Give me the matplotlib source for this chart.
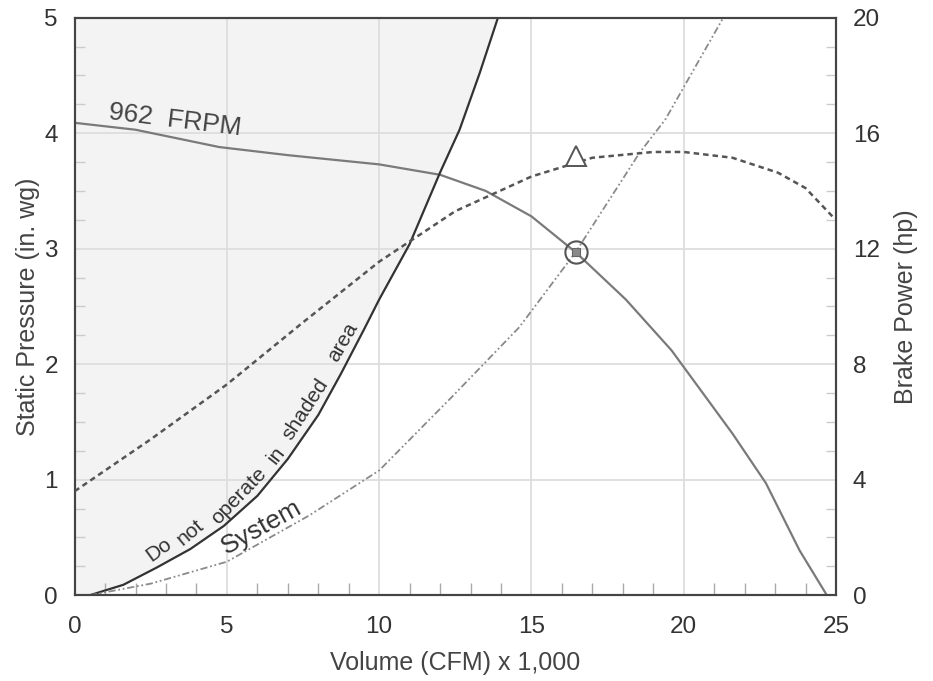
import numpy as np
import matplotlib.pyplot as plt

plt.rcParams['font.family'] = ['Liberation Sans', 'DejaVu Sans']

# fan curve, 962 FRPM (static pressure, in. wg)
fan_x = [0, 2, 4.75, 7, 10, 12, 13.5, 15, 16.45, 18.1, 19.6, 21.6, 22.7, 23.8, 24.7]
fan_y = [4.09, 4.03, 3.88, 3.81, 3.73, 3.64, 3.50, 3.28, 2.97, 2.56, 2.12, 1.40, 0.97, 0.39, 0.0]

# brake power (hp)
bhp_x = [0, 2.5, 5, 7.5, 10, 12.5, 15, 17, 19, 20, 21.6, 23.1, 24, 24.9]
bhp_y = [3.6, 5.4, 7.3, 9.45, 11.55, 13.3, 14.5, 15.15, 15.35, 15.35, 15.15, 14.63, 14.1, 13.1]

# system curve (in. wg)
sys_x = [0.5, 2.5, 5, 7.7, 10, 12.4, 14.6, 16.45, 18.55, 19.4, 21.3]
sys_y = [0, 0.10, 0.29, 0.69, 1.08, 1.72, 2.32, 2.97, 3.83, 4.12, 5.0]

# stall limit ("do not operate") curve
stall_x = [0.5, 1.6, 2.7, 3.8, 4.9, 6, 7, 8, 8.75, 9.5, 10, 11, 12, 12.64, 13.3, 13.9]
stall_y = [0, 0.09, 0.24, 0.40, 0.60, 0.86, 1.18, 1.56, 1.92, 2.30, 2.56, 3.04, 3.66, 4.03, 4.52, 5.0]

op_x, op_y = 16.45, 2.97
op_bhp = 15.2

fig = plt.figure(figsize=(9.33, 6.81), dpi=100)
ax = fig.add_axes([0.080, 0.126, 0.816, 0.848])
ax2 = ax.twinx()

ax.fill_betweenx(stall_y + [5.0], 0, stall_x + [stall_x[-1]], color='#f3f3f3', lw=0, zorder=0)

ax.plot(fan_x, fan_y, color='#7a7a7a', lw=1.6, zorder=3)
ax.plot(stall_x, stall_y, color='#333333', lw=1.6, zorder=3)
ax.plot(sys_x, sys_y, color='#8a8a8a', lw=1.3, dashes=(4, 1.5, 1, 1.5, 1, 1.5), zorder=3)
ax2.plot(bhp_x, bhp_y, color='#555555', lw=1.8, dashes=(2.2, 1.6), zorder=3)

ax.plot([op_x], [op_y], marker='o', ms=16, mfc='none', mec='#555555', mew=1.5, zorder=5)
ax.plot([op_x], [op_y], marker='s', ms=6, mfc='#8a8a8a', mec='#666666', mew=0.8, zorder=5)
ax2.plot([op_x], [op_bhp], marker='^', ms=14, mfc='white', mec='#555555', mew=1.4, zorder=5)

ax.set_xlim(0, 25)
ax.set_ylim(0, 5)
ax2.set_ylim(0, 20)
ax.set_xticks([0, 5, 10, 15, 20, 25])
ax.set_yticks([0, 1, 2, 3, 4, 5])
ax2.set_yticks([0, 4, 8, 12, 16, 20])
ax.set_xticks(np.arange(0, 26, 1), minor=True)
ax.set_yticks(np.arange(0, 5.01, 0.25), minor=True)
ax2.set_yticks(np.arange(0, 21, 1), minor=True)

ax.grid(True, which='major', color='#dddddd', lw=1.3)
ax.set_axisbelow(True)

ax.tick_params(axis='x', which='major', length=0, labelsize=17.5, labelcolor='#333333', pad=15)
ax.tick_params(axis='y', which='major', length=0, labelsize=17.5, labelcolor='#333333', pad=12)
ax2.tick_params(which='major', length=0, labelsize=17.5, labelcolor='#333333', pad=12)
ax.tick_params(axis='x', which='minor', direction='in', length=9, width=1, color='#aaaaaa')
ax.tick_params(axis='y', which='minor', direction='in', length=7, width=1, color='#cccccc')
ax2.tick_params(axis='y', which='minor', direction='in', length=7, width=1, color='#cccccc')

for a in (ax, ax2):
    for s in a.spines.values():
        s.set_color('#444444')
        s.set_linewidth(1.5)

ax.set_xlabel('Volume (CFM) x 1,000', fontsize=18, color='#444444', labelpad=9)
ax.set_ylabel('Static Pressure (in. wg)', fontsize=18, color='#444444', labelpad=3)
ax2.set_ylabel('Brake Power (hp)', fontsize=18, color='#444444', labelpad=10)

ax.text(1.08, 4.12, '962  FRPM', fontsize=19, color='#444444', rotation=-7,
        rotation_mode='anchor', ha='left', va='baseline', zorder=4)

# label that follows the stall curve, one word at a time
words = ['Do', 'not', 'operate', 'in', 'shaded', 'area']
word_x = [2.75, 3.78, 5.40, 6.61, 7.59, 8.81]
word_y = [0.39, 0.54, 0.86, 1.21, 1.61, 2.19]
word_rot = [36, 40, 46, 52, 57, 60]
for w, wx, wy, wr in zip(words, word_x, word_y, word_rot):
    ax.text(wx, wy, w, fontsize=15, color='#333333', rotation=wr,
            rotation_mode='anchor', ha='center', va='center', zorder=4)

ax.text(6.14, 0.59, 'System', fontsize=19, color='#333333', rotation=29,
        rotation_mode='anchor', ha='center', va='center', zorder=4)

fig.savefig('out.png', dpi=100)
